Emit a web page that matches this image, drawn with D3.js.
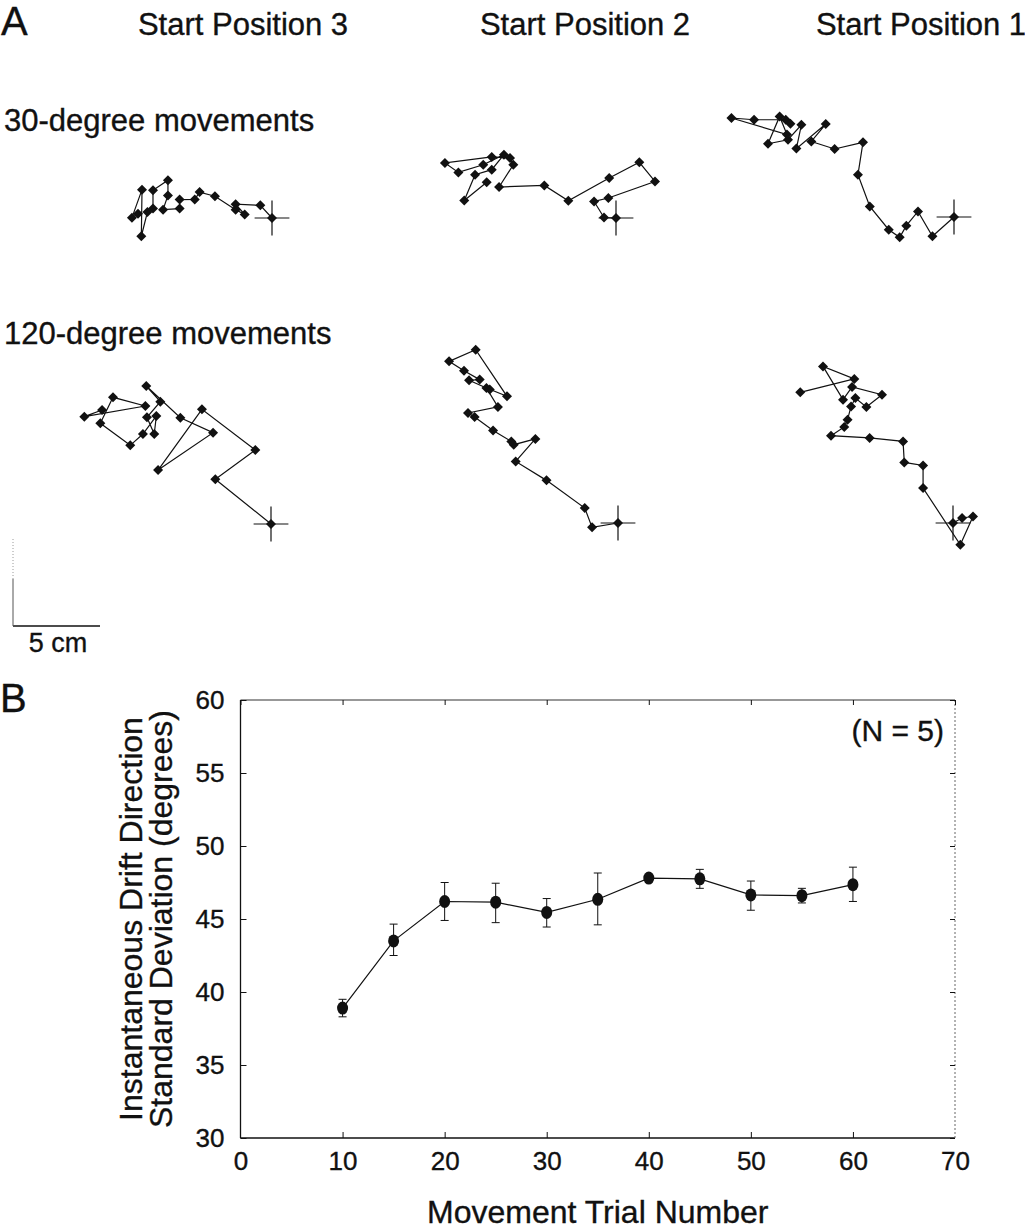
<!DOCTYPE html>
<html>
<head>
<meta charset="utf-8">
<script src="https://cdn.jsdelivr.net/npm/d3@7"></script>
<style>
  html, body { margin: 0; padding: 0; background: #fff; }
  svg { display: block; }
  text { font-family: "Liberation Sans", Arial, Helvetica, sans-serif; fill: #111; stroke: #111; stroke-width: 0.35px; }
</style>
</head>
<body>
<svg id="chart" width="1025" height="1230"></svg>
<script>
// ---------------- Panel A data (cm, relative to starting cross; x right, y up) ----------------
const columnTitles = ["Start Position 3", "Start Position 2", "Start Position 1"];
const rowTitles = ["30-degree movements", "120-degree movements"];
const scaleBarLabel = "5 cm";
const scaleBarCm = 5;

const drift30SP3 = [[0,0],[-0.67,0.73],[-2.09,0.79],[-1.57,0.20],[-2.09,0.48],[-3.28,1.25],[-4.16,1.49],[-4.44,1.07],[-5.31,1.06],[-5.31,0.54],[-6.26,0.48],[-5.98,1.30],[-5.98,2.17],[-6.84,1.59],[-6.84,0.54],[-7.16,0.34],[-7.51,-1.05],[-7.47,1.63],[-8.05,0.02],[-7.70,0.25]];
const drift30SP2 = [[0,0],[-0.69,0.03],[-1.26,0.95],[-0.44,1.15],[2.24,2.10],[1.34,3.20],[-0.39,2.30],[-2.74,0.99],[-4.12,1.87],[-6.72,1.78],[-5.90,3.06],[-6.09,3.45],[-7.14,3.51],[-9.83,3.16],[-9.06,2.62],[-7.63,3.06],[-6.44,3.64],[-7.14,2.78],[-8.10,2.49],[-8.72,1.01],[-7.43,2.05]];
const drift30SP1 = [[0,0],[-1.24,-1.11],[-2.07,0.32],[-2.74,-0.50],[-3.12,-1.17],[-3.75,-0.73],[-4.84,0.61],[-5.52,2.43],[-5.23,4.29],[-6.86,3.91],[-8.20,4.34],[-7.37,5.34],[-9.06,3.93],[-8.77,5.30],[-9.54,4.44],[-10.69,4.21],[-10.02,5.78],[-9.60,4.74],[-12.79,5.69],[-11.49,5.59],[-9.67,5.59],[-9.40,5.36]];
const drift120SP3 = [[0,0],[-3.20,2.57],[-0.90,4.25],[-3.97,6.59],[-6.49,3.10],[-3.33,5.25],[-5.21,6.11],[-7.17,7.93],[-6.36,7.03],[-7.13,6.13],[-6.71,5.17],[-6.59,6.21],[-7.36,5.17],[-8.09,4.52],[-9.81,5.79],[-9.08,7.28],[-7.22,6.78],[-10.73,6.17],[-9.71,6.55]];
const drift120SP2 = [[0,0],[-1.49,-0.25],[-1.91,0.86],[-4.11,2.45],[-5.88,3.54],[-4.75,4.83],[-5.99,4.50],[-6.13,4.69],[-7.18,5.32],[-8.24,6.09],[-8.62,6.32],[-6.90,6.67],[-7.56,7.76],[-6.38,7.28],[-8.18,9.96],[-9.71,9.29],[-8.85,8.75],[-7.95,8.24],[-8.56,8.20],[-7.37,7.67]];
const drift120SP1 = [[0,0],[0.52,0.29],[1.15,0.38],[0.42,-1.25],[-1.72,2.01],[-1.72,3.31],[-2.80,3.48],[-2.87,4.69],[-4.79,4.89],[-7.01,5.02],[-6.25,5.52],[-6.06,5.94],[-5.86,6.70],[-5.61,7.18],[-4.98,6.67],[-4.08,7.37],[-5.80,7.82],[-6.32,7.09],[-7.47,9.00],[-5.67,8.28],[-8.78,7.51]];

// ---------------- Panel B data ----------------
const trialNumbers = [10, 15, 20, 25, 30, 35, 40, 45, 50, 55, 60];
const sdMeans  = [38.9, 43.5, 46.2, 46.15, 45.45, 46.35, 47.8, 47.75, 46.65, 46.6, 47.35];
const sdUpper  = [39.5, 44.65, 47.5, 47.45, 46.4, 48.15, 47.95, 48.4, 47.6, 47.1, 48.55];
const sdLower  = [38.3, 42.5, 44.9, 44.75, 44.45, 44.6, 47.65, 47.1, 45.6, 46.1, 46.2];
const xTicks = [0, 10, 20, 30, 40, 50, 60, 70];
const yTicks = [30, 35, 40, 45, 50, 55, 60];
const xTitle = "Movement Trial Number";
const yTitleLines = ["Instantaneous Drift Direction", "Standard Deviation (degrees)"];
const nLabel = "(N = 5)";

// ---------------- Drawing ----------------
const svg = d3.select("#chart");
const ink = "#111";

// Panel letters
svg.append("text").attr("x", 1).attr("y", 35).style("font-size", "40px").text("A");
svg.append("text").attr("x", 0).attr("y", 712).style("font-size", "40px").text("B");

// Column titles
const colCenters = [243, 585, 921];
columnTitles.forEach((t, i) => {
  svg.append("text").attr("x", colCenters[i]).attr("y", 35)
    .attr("text-anchor", "middle").style("font-size", "31px").text(t);
});
// Row titles
const rowBaselines = [131, 344];
rowTitles.forEach((t, i) => {
  svg.append("text").attr("x", 4).attr("y", rowBaselines[i]).style("font-size", "31px").text(t);
});

// Trajectory panels
const pxPerCm = 17.4;
const panels = [
  { data: drift30SP3,  ox: 272, oy: 218 },
  { data: drift30SP2,  ox: 616, oy: 218 },
  { data: drift30SP1,  ox: 954, oy: 217 },
  { data: drift120SP3, ox: 271, oy: 524 },
  { data: drift120SP2, ox: 618, oy: 523 },
  { data: drift120SP1, ox: 953, oy: 523 }
];
const diamond = d3.symbol().type(d3.symbolSquare).size(50);
panels.forEach(p => {
  const xs = d3.scaleLinear().domain([0, 1]).range([p.ox, p.ox + pxPerCm]);
  const ys = d3.scaleLinear().domain([0, 1]).range([p.oy, p.oy - pxPerCm]);
  const g = svg.append("g");
  const armCm = 1.0;
  g.append("line").attr("x1", xs(-armCm)).attr("x2", xs(armCm)).attr("y1", ys(0)).attr("y2", ys(0))
    .attr("stroke", ink).attr("stroke-width", 1.2);
  g.append("line").attr("x1", xs(0)).attr("x2", xs(0)).attr("y1", ys(-armCm)).attr("y2", ys(armCm))
    .attr("stroke", ink).attr("stroke-width", 1.2);
  g.append("path").datum(p.data)
    .attr("d", d3.line().x(d => xs(d[0])).y(d => ys(d[1])))
    .attr("fill", "none").attr("stroke", ink).attr("stroke-width", 1.2);
  g.selectAll("path.m").data(p.data).join("path").attr("class", "m")
    .attr("d", diamond)
    .attr("transform", d => `translate(${xs(d[0])},${ys(d[1])}) rotate(45)`)
    .attr("fill", ink);
});

// Scale bar
const sbX = d3.scaleLinear().domain([0, scaleBarCm]).range([13, 13 + scaleBarCm * pxPerCm]);
const sbY = d3.scaleLinear().domain([0, scaleBarCm]).range([626, 626 - scaleBarCm * pxPerCm]);
svg.append("line").attr("x1", sbX(0)).attr("x2", sbX(scaleBarCm)).attr("y1", sbY(0)).attr("y2", sbY(0))
  .attr("stroke", ink).attr("stroke-width", 1.3);
svg.append("line").attr("x1", sbX(0)).attr("x2", sbX(0)).attr("y1", sbY(0)).attr("y2", sbY(2.7))
  .attr("stroke", "#555").attr("stroke-width", 1);
svg.append("line").attr("x1", sbX(0)).attr("x2", sbX(0)).attr("y1", sbY(2.7)).attr("y2", sbY(scaleBarCm))
  .attr("stroke", "#999").attr("stroke-width", 1).attr("stroke-dasharray", "1,2");
svg.append("text").attr("x", 58).attr("y", 652).attr("text-anchor", "middle")
  .style("font-size", "27px").text(scaleBarLabel);

// ---------------- Panel B plot ----------------
const L = 240.5, R = 955, T = 700, B = 1138;
const x = d3.scaleLinear().domain([0, 70]).range([L, R]);
const y = d3.scaleLinear().domain([30, 60]).range([B, T]);
const plot = svg.append("g");

plot.append("line").attr("x1", L).attr("x2", R).attr("y1", B).attr("y2", B).attr("stroke", ink).attr("stroke-width", 1.3);
plot.append("line").attr("x1", L).attr("x2", L).attr("y1", T).attr("y2", B).attr("stroke", ink).attr("stroke-width", 1.3);
plot.append("line").attr("x1", L).attr("x2", R).attr("y1", T).attr("y2", T).attr("stroke", "#333").attr("stroke-width", 1.1);
plot.append("line").attr("x1", R).attr("x2", R).attr("y1", T).attr("y2", B).attr("stroke", "#666").attr("stroke-width", 1).attr("stroke-dasharray", "2,2");

const axB = d3.axisBottom(x).tickValues(xTicks).tickSize(-6).tickPadding(14).tickFormat(d3.format("d"));
const gB = plot.append("g").attr("transform", `translate(0,${B})`).call(axB);
const axL = d3.axisLeft(y).tickValues(yTicks).tickSize(-6).tickPadding(16).tickFormat(d3.format("d"));
const gL = plot.append("g").attr("transform", `translate(${L},0)`).call(axL);
const axT = d3.axisTop(x).tickValues(xTicks).tickSize(-5).tickFormat("");
const gT = plot.append("g").attr("transform", `translate(0,${T})`).call(axT);
const axR = d3.axisRight(y).tickValues(yTicks).tickSize(-5).tickFormat("");
const gR = plot.append("g").attr("transform", `translate(${R},0)`).call(axR);
[gB, gL, gT, gR].forEach(g => {
  g.select(".domain").remove();
  g.selectAll(".tick line").attr("stroke", ink).attr("stroke-width", 1);
  g.selectAll(".tick text").attr("fill", ink).style("font-size", "26px")
    .style("font-family", "'Liberation Sans', Arial, sans-serif");
});
gB.selectAll(".tick").filter(d => d === 0 || d === 70).select("line").remove();

// error bars
const pts = trialNumbers.map((t, i) => ({ t, m: sdMeans[i], hi: sdUpper[i], lo: sdLower[i] }));
const eb = plot.append("g");
pts.forEach(d => {
  eb.append("line").attr("x1", x(d.t)).attr("x2", x(d.t)).attr("y1", y(d.lo)).attr("y2", y(d.hi))
    .attr("stroke", ink).attr("stroke-width", 1);
  [d.lo, d.hi].forEach(v => {
    eb.append("line").attr("x1", x(d.t) - 4).attr("x2", x(d.t) + 4).attr("y1", y(v)).attr("y2", y(v))
      .attr("stroke", ink).attr("stroke-width", 1);
  });
});
plot.append("path").datum(pts)
  .attr("d", d3.line().x(d => x(d.t)).y(d => y(d.m)))
  .attr("fill", "none").attr("stroke", ink).attr("stroke-width", 1.2);
plot.selectAll("ellipse.pt").data(pts).join("ellipse").attr("class", "pt")
  .attr("cx", d => x(d.t)).attr("cy", d => y(d.m)).attr("rx", 5.5).attr("ry", 6.5).attr("fill", ink);

// labels
plot.append("text").attr("x", 944).attr("y", 741).attr("text-anchor", "end")
  .style("font-size", "30px").text(nLabel);
plot.append("text").attr("x", (L + R) / 2) .attr("y", 1223).attr("text-anchor", "middle")
  .style("font-size", "32px").text(xTitle);
const yTitleX = [142, 172];
yTitleLines.forEach((t, i) => {
  plot.append("text").attr("transform", `translate(${yTitleX[i]},919) rotate(-90)`)
    .attr("text-anchor", "middle").style("font-size", "32px").text(t);
});
</script>
</body>
</html>
